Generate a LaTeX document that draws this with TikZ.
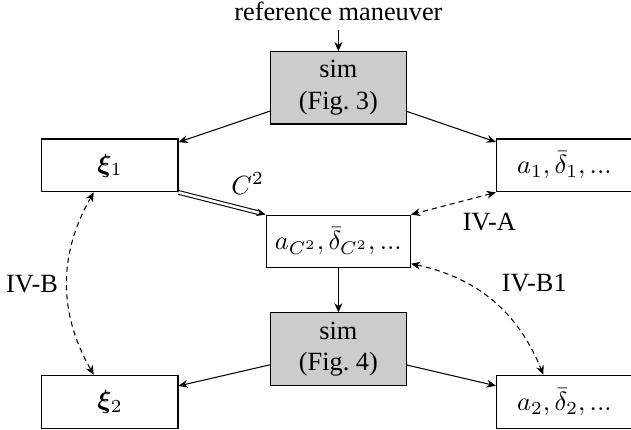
\documentclass[tikz,border=0pt]{standalone}
\usepackage{fontspec}
\setmainfont{Liberation Serif}
\usepackage{amsmath}
\usepackage{bm}
\usetikzlibrary{arrows.meta,positioning,calc}
\tikzset{
  block/.style={rectangle,draw,minimum width=51.7pt,minimum height=20.1pt,align=center},
  simblock/.style={block,fill=black!20},
  flowarrow/.style={-{Stealth[length=3.5pt,width=3pt]}},
  sectlink/.style={{Stealth[length=3.5pt,width=3pt]}-{Stealth[length=3.5pt,width=3pt]},dash pattern=on 2pt off 1.5pt}
}

\begin{document}
\begin{tikzpicture}
  \useasboundingbox (-128.6pt,33.4pt) rectangle ++(239.8pt,-163.4pt);
  \node[simblock] (sim1) {sim\\(Fig.~3)};
  \node[above=8pt of sim1] (ref) {reference maneuver};
  \node[block, below left=5.3pt and 34.7pt of sim1] (xi1) {$\bm{\xi}_1$};
  \node[block, right=120.6pt of xi1] (a1) {$a_1, \bar{\delta}_1, ...$};
  \node[block, below=34.2pt of sim1] (aC2) {$a_{C^2}, \bar{\delta}_{C^2}, ...$};
  \node[simblock, below=16.7pt of aC2] (sim2) {sim\\(Fig.~4)};
  \node[block, below=69.3pt of xi1] (xi2) {$\bm{\xi}_2$};
  \node[block, below=69.3pt of a1] (a2) {$a_2, \bar{\delta}_2, ...$};
  \draw[flowarrow] (ref) -- (sim1);
  \draw[flowarrow] (sim1) -- (xi1);
  \draw[flowarrow] (sim1) -- (a1);
  \draw[double, double distance=1pt, flowarrow] (xi1.south east) -- node[midway, above right] {$C^2$} (aC2.north west);
  \draw[sectlink] (a1.south west) -- node[midway, below right] {IV-A} (aC2.north east);
  \draw[flowarrow] (aC2) -- (sim2);
  \draw[flowarrow] (sim2) -- (xi2);
  \draw[flowarrow] (sim2) -- (a2);
  \draw[sectlink] (xi1.-121) to[bend right=30] node[midway, left] {IV-B} (xi2.121);
  \draw[sectlink] (aC2.-17) to[bend left=28] node[midway, above right] {IV-B1} (a2.128);
\end{tikzpicture}
\end{document}
